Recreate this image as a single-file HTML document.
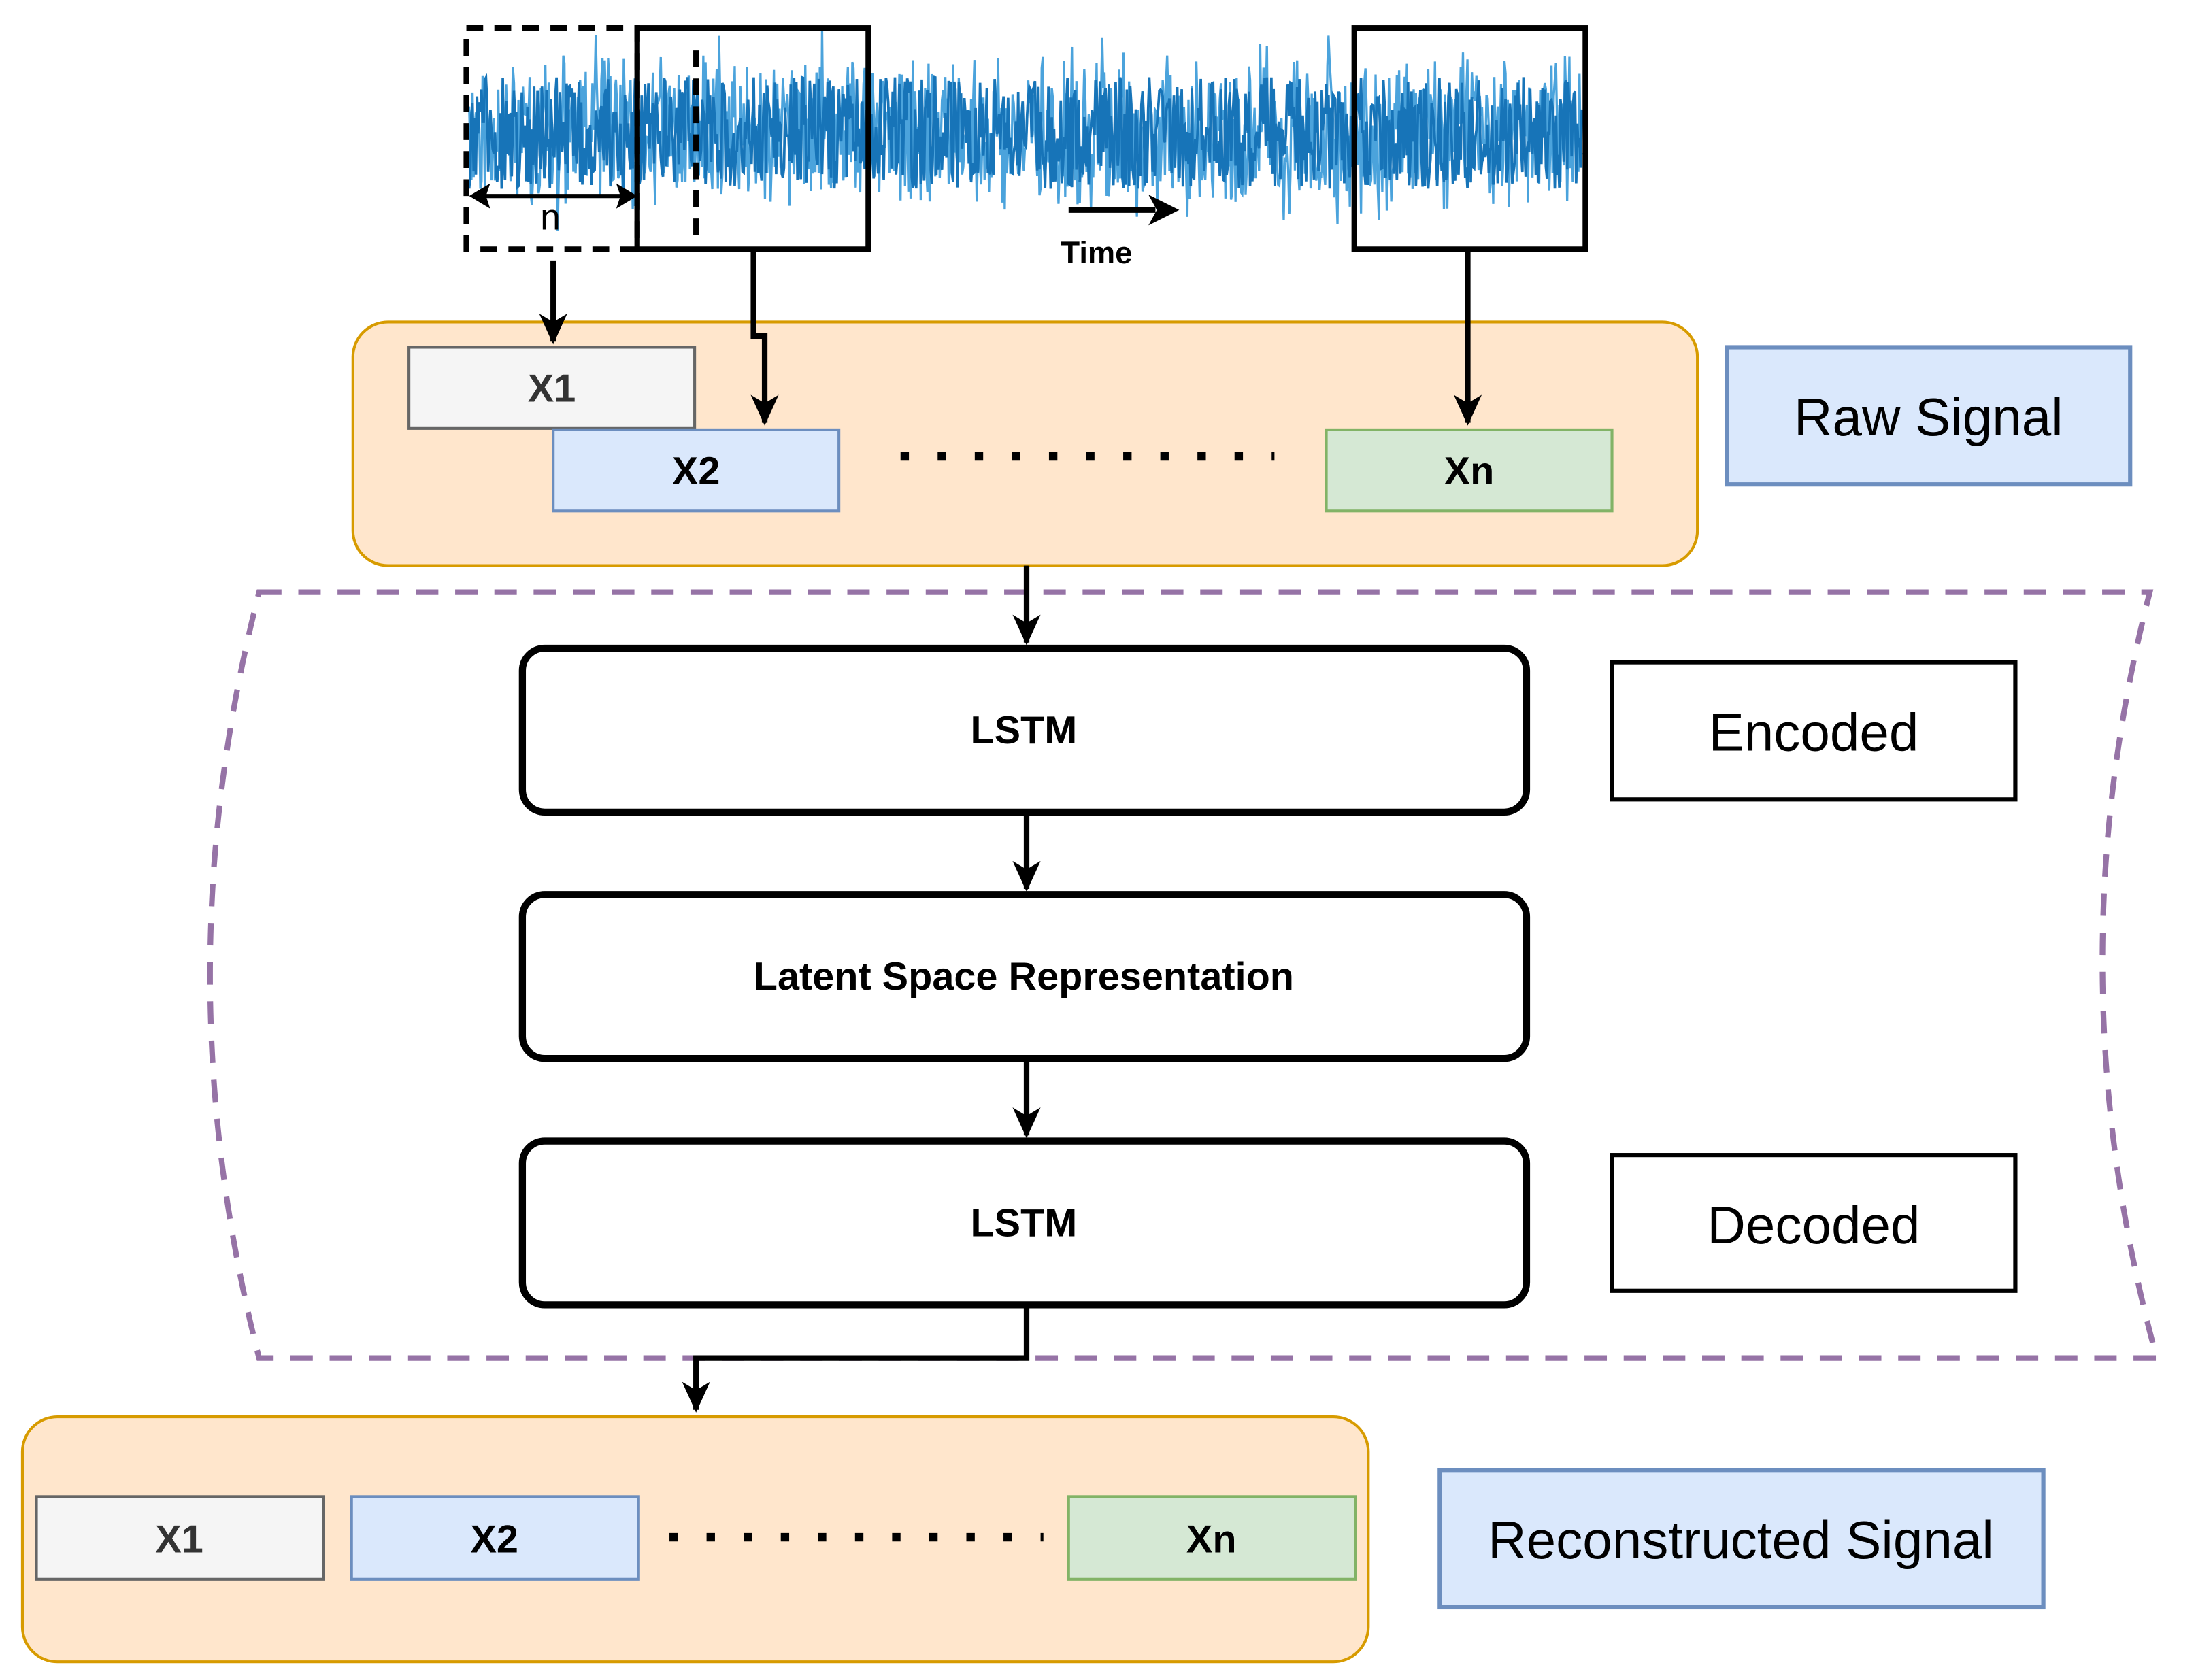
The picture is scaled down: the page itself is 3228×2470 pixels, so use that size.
<!DOCTYPE html>
<html><head><meta charset="utf-8"><style>
html,body{margin:0;padding:0;background:#fff;}
svg{display:block;}
text{font-family:"Liberation Sans",Arial,sans-serif;}
</style></head><body>
<svg id="s" width="3228" height="2470" viewBox="0 0 1568 1200" preserveAspectRatio="none" xmlns="http://www.w3.org/2000/svg">
<defs>
<marker id="ab" markerWidth="22" markerHeight="22" refX="20" refY="11" orient="auto" markerUnits="userSpaceOnUse" viewBox="0 0 22 22">
<path d="M0,1 L22,11 L0,21 L6,11 z" fill="#000"/>
</marker>
</defs>
<g id="sig"></g>
<rect x="333" y="20" width="122" height="158" fill="none" stroke="#000" stroke-width="4" stroke-dasharray="12,8"/>
<line x1="497" y1="36" x2="497" y2="172" stroke="#000" stroke-width="4" stroke-dasharray="12,8"/>
<rect x="455" y="20" width="165" height="158" fill="none" stroke="#000" stroke-width="4"/>
<rect x="967" y="20" width="165" height="158" fill="none" stroke="#000" stroke-width="4"/>
<line x1="345" y1="140" x2="443" y2="140" stroke="#000" stroke-width="3"/>
<path d="M335,140 L350,131 L347,140 L350,149 z" fill="#000"/>
<path d="M455,140 L440,131 L443,140 L440,149 z" fill="#000"/>
<text x="393" y="164" font-size="26" text-anchor="middle">n</text>
<line x1="763" y1="150" x2="825" y2="150" stroke="#000" stroke-width="4"/>
<path d="M842,150 L820,139 L826,150 L820,161 z" fill="#000"/>
<text x="783" y="188" font-size="22" font-weight="bold" text-anchor="middle">Time</text>
<rect x="252" y="230" width="960" height="174" rx="25" fill="#ffe6cc" stroke="#d79b00" stroke-width="2"/>
<rect x="292" y="248" width="204" height="58" fill="#f5f5f5" stroke="#666" stroke-width="2"/>
<text x="394" y="287" font-size="28" font-weight="bold" text-anchor="middle" fill="#333">X1</text>
<rect x="395" y="307" width="204" height="58" fill="#dae8fc" stroke="#6c8ebf" stroke-width="2"/>
<text x="497" y="346" font-size="28" font-weight="bold" text-anchor="middle">X2</text>
<rect x="947" y="307" width="204" height="58" fill="#d5e8d4" stroke="#82b366" stroke-width="2"/>
<text x="1049" y="346" font-size="28" font-weight="bold" text-anchor="middle">Xn</text>
<line x1="643" y1="326" x2="910" y2="326" stroke="#000" stroke-width="6" stroke-dasharray="6,20.5"/>
<line x1="395" y1="186" x2="395" y2="244" stroke="#000" stroke-width="4" marker-end="url(#ab)"/>
<polyline points="538,178 538,240 546,240 546,302" fill="none" stroke="#000" stroke-width="4" marker-end="url(#ab)"/>
<line x1="1048" y1="178" x2="1048" y2="302" stroke="#000" stroke-width="4" marker-end="url(#ab)"/>
<rect x="1233" y="248" width="288" height="98" fill="#dae8fc" stroke="#6c8ebf" stroke-width="3"/>
<text x="1377" y="311" font-size="38" text-anchor="middle">Raw Signal</text>
<path d="M185,423 L1535,423 Q1465,696 1540,970 L185,970 Q115,696 185,423 z" fill="none" stroke="#9673a6" stroke-width="4" stroke-dasharray="16,12"/>
<line x1="733" y1="404" x2="733" y2="459" stroke="#000" stroke-width="4" marker-end="url(#ab)"/>
<rect x="373" y="463" width="717" height="117" rx="16" fill="#fff" stroke="#000" stroke-width="5"/>
<text x="731" y="531" font-size="28" font-weight="bold" text-anchor="middle">LSTM</text>
<line x1="733" y1="580" x2="733" y2="635" stroke="#000" stroke-width="4" marker-end="url(#ab)"/>
<rect x="373" y="639" width="717" height="117" rx="16" fill="#fff" stroke="#000" stroke-width="5"/>
<text x="731" y="707" font-size="28" font-weight="bold" text-anchor="middle">Latent Space Representation</text>
<line x1="733" y1="756" x2="733" y2="811" stroke="#000" stroke-width="4" marker-end="url(#ab)"/>
<rect x="373" y="815" width="717" height="117" rx="16" fill="#fff" stroke="#000" stroke-width="5"/>
<text x="731" y="883" font-size="28" font-weight="bold" text-anchor="middle">LSTM</text>
<rect x="1151" y="473" width="288" height="98" fill="#fff" stroke="#000" stroke-width="3"/>
<text x="1295" y="536" font-size="38" text-anchor="middle">Encoded</text>
<rect x="1151" y="825" width="288" height="97" fill="#fff" stroke="#000" stroke-width="3"/>
<text x="1295" y="888" font-size="38" text-anchor="middle">Decoded</text>
<polyline points="733,932 733,970 497,970 497,1007" fill="none" stroke="#000" stroke-width="4" marker-end="url(#ab)"/>
<rect x="16" y="1012" width="961" height="175" rx="25" fill="#ffe6cc" stroke="#d79b00" stroke-width="2"/>
<rect x="26" y="1069" width="205" height="59" fill="#f5f5f5" stroke="#666" stroke-width="2"/>
<text x="128" y="1109" font-size="28" font-weight="bold" text-anchor="middle" fill="#333">X1</text>
<rect x="251" y="1069" width="205" height="59" fill="#dae8fc" stroke="#6c8ebf" stroke-width="2"/>
<text x="353" y="1109" font-size="28" font-weight="bold" text-anchor="middle">X2</text>
<rect x="763" y="1069" width="205" height="59" fill="#d5e8d4" stroke="#82b366" stroke-width="2"/>
<text x="865" y="1109" font-size="28" font-weight="bold" text-anchor="middle">Xn</text>
<line x1="478" y1="1098" x2="745" y2="1098" stroke="#000" stroke-width="6" stroke-dasharray="6,20.5"/>
<rect x="1028" y="1050" width="431" height="98" fill="#dae8fc" stroke="#6c8ebf" stroke-width="3"/>
<text x="1243" y="1113" font-size="38" text-anchor="middle">Reconstructed Signal</text>
</svg>
<script>
(function(){
var seed=12345;function r(){seed=(seed*1103515245+12345)%2147483648;return seed/2147483648;}
var g=document.getElementById('sig');
var pts=[],pts2=[];
for(var x=335;x<=1130;x+=0.8){
 var a=r()<0.2?80:58;
 var y=95+(r()*2-1)*a*(0.55+0.45*r());
 pts.push(x.toFixed(1)+','+y.toFixed(1));
 var y2=95+(r()*2-1)*40;
 pts2.push(x.toFixed(1)+','+y2.toFixed(1));
}
var ns='http://www.w3.org/2000/svg';
var p=document.createElementNS(ns,'polyline');
p.setAttribute('points',pts.join(' '));p.setAttribute('fill','none');p.setAttribute('stroke','#4ba3dc');p.setAttribute('stroke-width','1.6');
g.appendChild(p);
var p2=document.createElementNS(ns,'polyline');
p2.setAttribute('points',pts2.join(' '));p2.setAttribute('fill','none');p2.setAttribute('stroke','#1774b8');p2.setAttribute('stroke-width','1.8');
g.appendChild(p2);
})();
</script>
</body></html>
